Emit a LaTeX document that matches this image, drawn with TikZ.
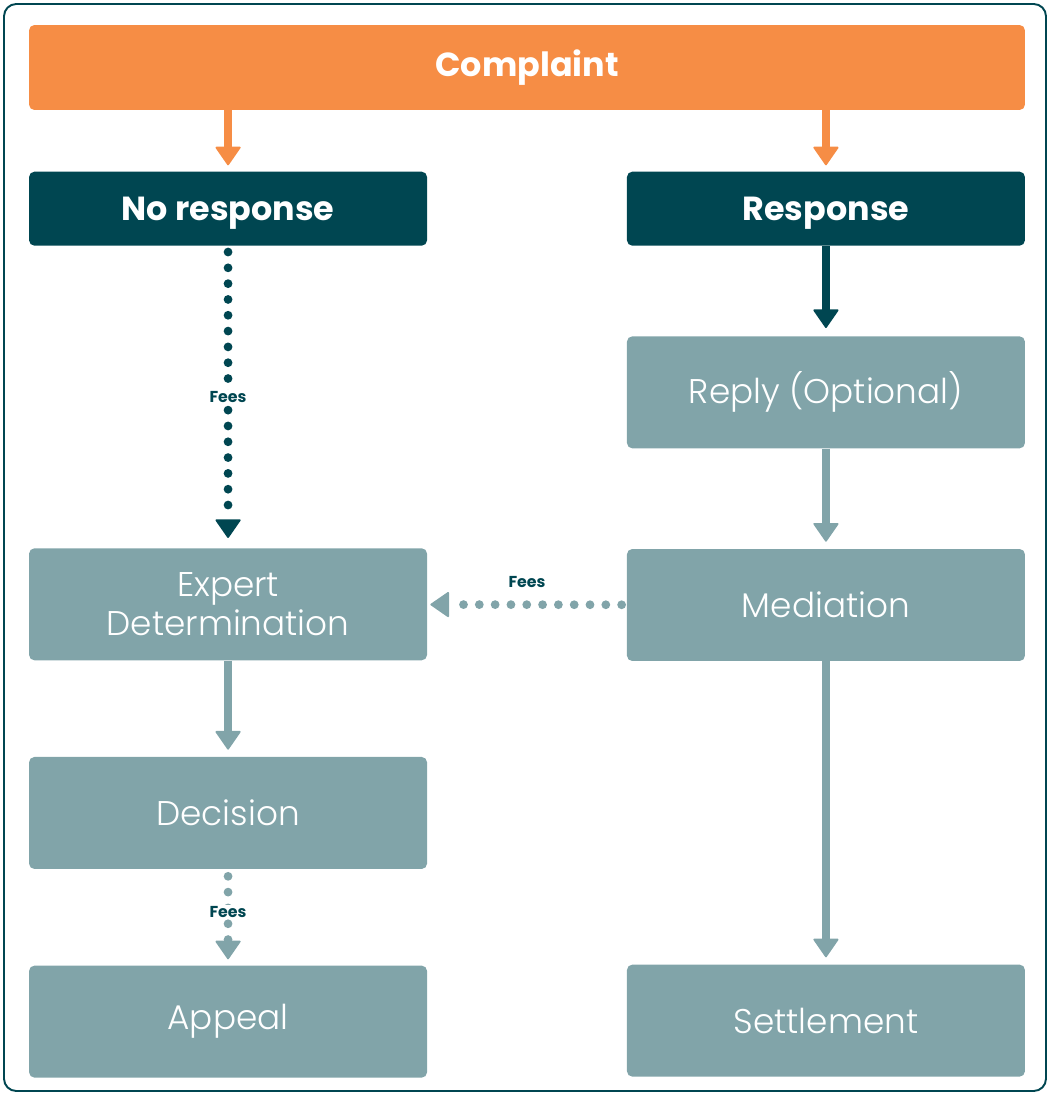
\documentclass[tikz,border=0pt]{standalone}
\usepackage{fontspec}
\setmainfont{Poppins}
\newfontfamily\lightfont{Poppins Light}
\usetikzlibrary{arrows.meta,positioning}
\definecolor{orangebar}{HTML}{F68D45}
\definecolor{darkteal}{HTML}{004651}
\definecolor{greyteal}{HTML}{81A4A9}

\begin{document}
\begin{tikzpicture}[x=0.02cm, y=-0.02cm,
    top node/.style={rectangle, rounded corners=3pt, fill=orangebar, text=white, font=\bfseries\fontsize{19}{22}\selectfont, minimum width=19.92cm, minimum height=1.7cm},
    head node/.style={rectangle, rounded corners=3pt, fill=darkteal, text=white, font=\bfseries\fontsize{19}{22}\selectfont, text depth=0pt, minimum width=7.96cm, minimum height=1.48cm},
    main node/.style={rectangle, rounded corners=3pt, fill=greyteal, text=white, font=\lightfont\fontsize{19.5}{23}\selectfont, align=center, minimum width=7.96cm, minimum height=2.24cm},
    link/.style={line width=5pt, -{Triangle[round, width=15pt, length=11pt, line width=1pt]}},
    fees link/.style={link, line cap=round, dash pattern=on 0pt off 9pt},
    fees/.style={text=darkteal, font=\bfseries\fontsize{9}{10}\selectfont}]

  \useasboundingbox (0,0) rectangle (1050,1095);
  \draw[darkteal, line width=1.1pt, rounded corners=7pt] (4,4) rectangle (1046,1091);

  \node[top node] (complaint) at (527,67.5) {Complaint};
  \node[head node] (noresp) [below=1.22cm of complaint.south west, anchor=north west] {No response};
  \node[head node] (resp) [below=1.22cm of complaint.south east, anchor=north east] {Response};
  \node[main node] (reply) [below=1.8cm of resp] {Reply (Optional)};
  \node[main node] (mediation) [below=2cm of reply] {Mediation};
  \node[main node] (expert) [below=6.04cm of noresp] {Expert\\[-1pt]Determination};
  \node[main node] (decision) [below=1.92cm of expert] {Decision};
  \node[main node] (appeal) [below=1.92cm of decision] {Appeal};
  \node[main node] (settlement) [below=6.06cm of mediation] {Settlement};

  \coordinate (c1) at (complaint.south -| noresp.north);
  \coordinate (c2) at (complaint.south -| resp.north);

  \path[link]
    (c1) edge[orangebar, shorten >=0.12cm] (noresp)
    (c2) edge[orangebar, shorten >=0.12cm] (resp)
    (noresp) edge[fees link, darkteal, shorten <=0.12cm, shorten >=0.2cm] node[fill=white, fees, inner sep=1pt] {Fees} (expert)
    (resp) edge[darkteal, shorten >=0.16cm] (reply)
    (reply) edge[greyteal, shorten >=0.14cm] (mediation)
    (mediation) edge[fees link, greyteal, shorten <=0.1cm, shorten >=0.06cm] node[above=4pt, fees] {Fees} (expert)
    (expert) edge[greyteal, shorten >=0.14cm] (decision)
    (decision) edge[fees link, greyteal, shorten <=0.14cm, shorten >=0.12cm] node[fill=white, fees, inner sep=1pt, yshift=3pt] {Fees} (appeal)
    (mediation) edge[greyteal, shorten >=0.14cm] (settlement);
\end{tikzpicture}
\end{document}
